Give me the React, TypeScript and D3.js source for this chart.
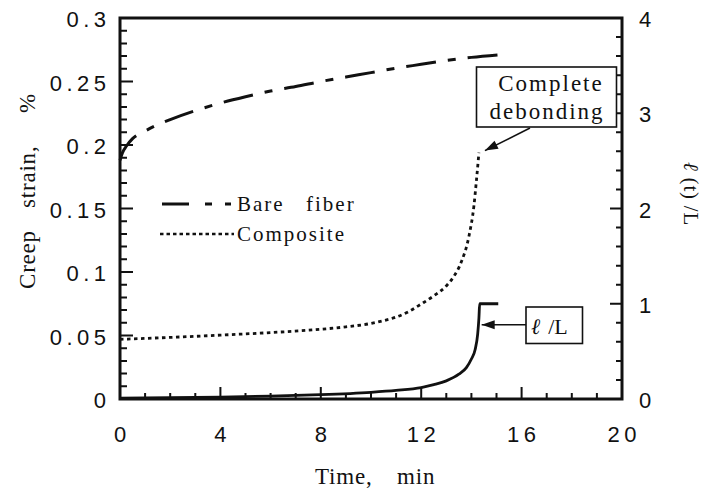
import React from 'react';
import * as d3 from 'd3';

// Axis ticks
const timeTicks = [0, 4, 8, 12, 16, 20];
const strainTicks = [0, 0.05, 0.1, 0.15, 0.2, 0.25, 0.3];
const strainTickLabels = ['0', '0.05', '0.1', '0.15', '0.2', '0.25', '0.3'];
const ratioTicks = [0, 1, 2, 3, 4];

// Bare fiber creep strain (%)
const bareTime = [0, 0.1, 0.25, 0.5, 1, 1.5, 2, 3, 4, 5, 6, 7, 8, 9, 10, 11, 12, 13, 14, 15.1];
const bareStrain = [0.188, 0.194, 0.199, 0.205, 0.211, 0.216, 0.22, 0.227, 0.233, 0.238, 0.2425, 0.246, 0.25, 0.2535, 0.257, 0.2605, 0.2635, 0.2665, 0.269, 0.271];

// Composite creep strain (%)
const compTime = [0, 2, 4, 6, 8, 9, 10, 10.5, 11, 11.5, 12, 12.5, 13, 13.3, 13.6, 13.9, 14.1, 14.2, 14.3];
const compStrain = [0.047, 0.0485, 0.0503, 0.0523, 0.0549, 0.0568, 0.0595, 0.0617, 0.0645, 0.0688, 0.0748, 0.0812, 0.089, 0.0965, 0.108, 0.128, 0.152, 0.172, 0.194];

// Debond length ratio l(t)/L
const ratioTime = [0, 2, 4, 6, 8, 10, 11, 12, 12.5, 13, 13.5, 13.8, 14, 14.15, 14.25, 14.3, 14.33, 15.07];
const ratioValue = [0.01, 0.015, 0.02, 0.03, 0.045, 0.07, 0.09, 0.12, 0.15, 0.19, 0.26, 0.33, 0.42, 0.52, 0.68, 0.85, 1.0, 1.0];

const W = 709;
const H = 495;
const left = 120;
const right = 622;
const top = 18;
const bottom = 399;

const sans = '"Liberation Sans", Arial, Helvetica, sans-serif';
const serif = '"Liberation Serif", "Times New Roman", Times, serif';
const ink = '#111111';

export default function App() {
  const x = d3.scaleLinear().domain([0, 20]).range([left, right]);
  const yL = d3.scaleLinear().domain([0, 0.3]).range([bottom, top]);
  const yR = d3.scaleLinear().domain([0, 4]).range([bottom, top]);

  const lineL = d3
    .line<[number, number]>()
    .x((d) => x(d[0]))
    .y((d) => yL(d[1]))
    .curve(d3.curveMonotoneX);
  const lineR = d3
    .line<[number, number]>()
    .x((d) => x(d[0]))
    .y((d) => yR(d[1]))
    .curve(d3.curveMonotoneX);

  const bare = bareTime.map((t, i) => [t, bareStrain[i]] as [number, number]);
  const comp = compTime.map((t, i) => [t, compStrain[i]] as [number, number]);
  const ratio = ratioTime.map((t, i) => [t, ratioValue[i]] as [number, number]);

  const minorTime = d3.range(0, 21, 1).filter((t) => t % 4 !== 0);
  const minorStrain = d3.range(1, 30).filter((i) => i % 5 !== 0).map((i) => i / 100);
  const minorRatio = d3.range(1, 20).filter((i) => i % 5 !== 0).map((i) => i / 5);

  // all tick marks as one path per axis, pointing inward
  const bottomTicks =
    timeTicks.map((t) => `M${x(t)},${bottom}V${bottom - 12}`).join('') +
    minorTime.map((t) => `M${x(t)},${bottom}V${bottom - 6}`).join('');
  const leftTicks =
    strainTicks.map((s) => `M${left},${yL(s)}H${left + 13}`).join('') +
    minorStrain.map((s) => `M${left},${yL(s)}H${left + 7}`).join('');
  const rightTicks =
    ratioTicks.map((r) => `M${right},${yR(r)}H${right - 12}`).join('') +
    minorRatio.map((r) => `M${right},${yR(r)}H${right - 6}`).join('');

  const tickLs = 4.5;
  const tickFont = 22;

  // arrow targets taken from the curve ends
  const compEnd = comp[comp.length - 1];
  const debTip: [number, number] = [x(compEnd[0]) + 6, yL(compEnd[1]) - 2];
  const debStart: [number, number] = [530, 128];
  const ratioTip: [number, number] = [x(14.33) + 2, yR(0.78)];
  const ratioStart: [number, number] = [526, yR(0.78)];

  const arrowHead = (from: [number, number], to: [number, number], len = 13, half = 4.5) => {
    const ang = Math.atan2(to[1] - from[1], to[0] - from[0]);
    const bx = to[0] - len * Math.cos(ang);
    const by = to[1] - len * Math.sin(ang);
    const px = -Math.sin(ang) * half;
    const py = Math.cos(ang) * half;
    return `M${to[0]},${to[1]}L${bx + px},${by + py}L${bx - px},${by - py}Z`;
  };

  return (
    <svg
      width={W}
      height={H}
      viewBox={`0 0 ${W} ${H}`}
      style={{ position: 'absolute', left: 0, top: 0, background: '#fff' }}
    >
      <rect x={0} y={0} width={W} height={H} fill="#fff" />

      {/* curves */}
      <path
        d={lineL(bare) || ''}
        fill="none"
        stroke={ink}
        strokeWidth={3}
        strokeDasharray="30 12 8 12"
      />
      <path
        d={lineL(comp) || ''}
        fill="none"
        stroke={ink}
        strokeWidth={2.8}
        strokeDasharray="3.5 3.5"
      />
      <path d={lineR(ratio) || ''} fill="none" stroke={ink} strokeWidth={2.8} />

      {/* frame */}
      <rect
        x={left}
        y={top}
        width={right - left}
        height={bottom - top}
        fill="none"
        stroke={ink}
        strokeWidth={3}
      />

      {/* tick marks */}
      <path d={bottomTicks} fill="none" stroke={ink} strokeWidth={2} />
      <path d={leftTicks} fill="none" stroke={ink} strokeWidth={2} />
      <path d={rightTicks} fill="none" stroke={ink} strokeWidth={2} />

      {/* tick labels */}
      {timeTicks.map((t) => (
        <text
          key={`tl${t}`}
          x={x(t) + tickLs / 2}
          y={442}
          textAnchor="middle"
          fontFamily={sans}
          fontSize={tickFont}
          letterSpacing={tickLs}
          fill={ink}
        >
          {t}
        </text>
      ))}
      {strainTicks.map((s, i) => (
        <text
          key={`sl${s}`}
          x={106 + tickLs}
          y={yL(s) + 9}
          textAnchor="end"
          fontFamily={sans}
          fontSize={tickFont}
          letterSpacing={tickLs}
          fill={ink}
        >
          {strainTickLabels[i]}
        </text>
      ))}
      {ratioTicks.map((r) => (
        <text
          key={`rl${r}`}
          x={639}
          y={yR(r) + 9}
          textAnchor="start"
          fontFamily={sans}
          fontSize={tickFont}
          letterSpacing={tickLs}
          fill={ink}
        >
          {r}
        </text>
      ))}

      {/* axis titles */}
      <g fontFamily={serif} fontSize={23} fill={ink} letterSpacing={0.8}>
        <text x={315} y={484}>Time,</text>
        <text x={397} y={484}>min</text>
        <g transform="translate(35,0) rotate(-90)">
          <text x={-289} y={0}>Creep</text>
          <text x={-208} y={0}>strain,</text>
          <text x={-113} y={0}>%</text>
        </g>
        <g transform="translate(684,162) rotate(90)">
          <text x={0} y={0} fontSize={21}>
            <tspan fontStyle="italic">ℓ</tspan> (t) /L
          </text>
        </g>
      </g>

      {/* legend */}
      <line
        x1={162}
        x2={231}
        y1={204}
        y2={204}
        stroke={ink}
        strokeWidth={3}
        strokeDasharray="27 16 7 13 6 50"
      />
      <line x1={160} x2={234} y1={234} y2={234} stroke={ink} strokeWidth={2.6} strokeDasharray="3.5 3" />
      <g fontFamily={serif} fontSize={21} fill={ink} letterSpacing={2}>
        <text x={237} y={211}>Bare</text>
        <text x={306} y={211}>fiber</text>
        <text x={237} y={241}>Composite</text>
      </g>

      {/* annotation: complete debonding */}
      <rect x={476.5} y={67} width={140} height={60} fill="#fff" stroke={ink} strokeWidth={1.6} />
      <g fontFamily={serif} fontSize={23} fill={ink} letterSpacing={2}>
        <text x={551} y={91} textAnchor="middle">Complete</text>
        <text x={547} y={119} textAnchor="middle">debonding</text>
      </g>
      <line x1={debStart[0]} y1={debStart[1]} x2={debTip[0]} y2={debTip[1]} stroke={ink} strokeWidth={1.6} />
      <path d={arrowHead(debStart, debTip)} fill={ink} />

      {/* annotation: l/L */}
      <rect x={526} y={307} width={56.5} height={36.5} fill="#fff" stroke={ink} strokeWidth={1.6} />
      <g fontFamily={serif} fontSize={22} fill={ink}>
        <text x={531} y={334}>
          <tspan fontStyle="italic">ℓ</tspan>
          <tspan dx={8}>/L</tspan>
        </text>
      </g>
      <line x1={ratioStart[0]} y1={ratioStart[1]} x2={ratioTip[0]} y2={ratioTip[1]} stroke={ink} strokeWidth={1.6} />
      <path d={arrowHead(ratioStart, ratioTip)} fill={ink} />
    </svg>
  );
}
